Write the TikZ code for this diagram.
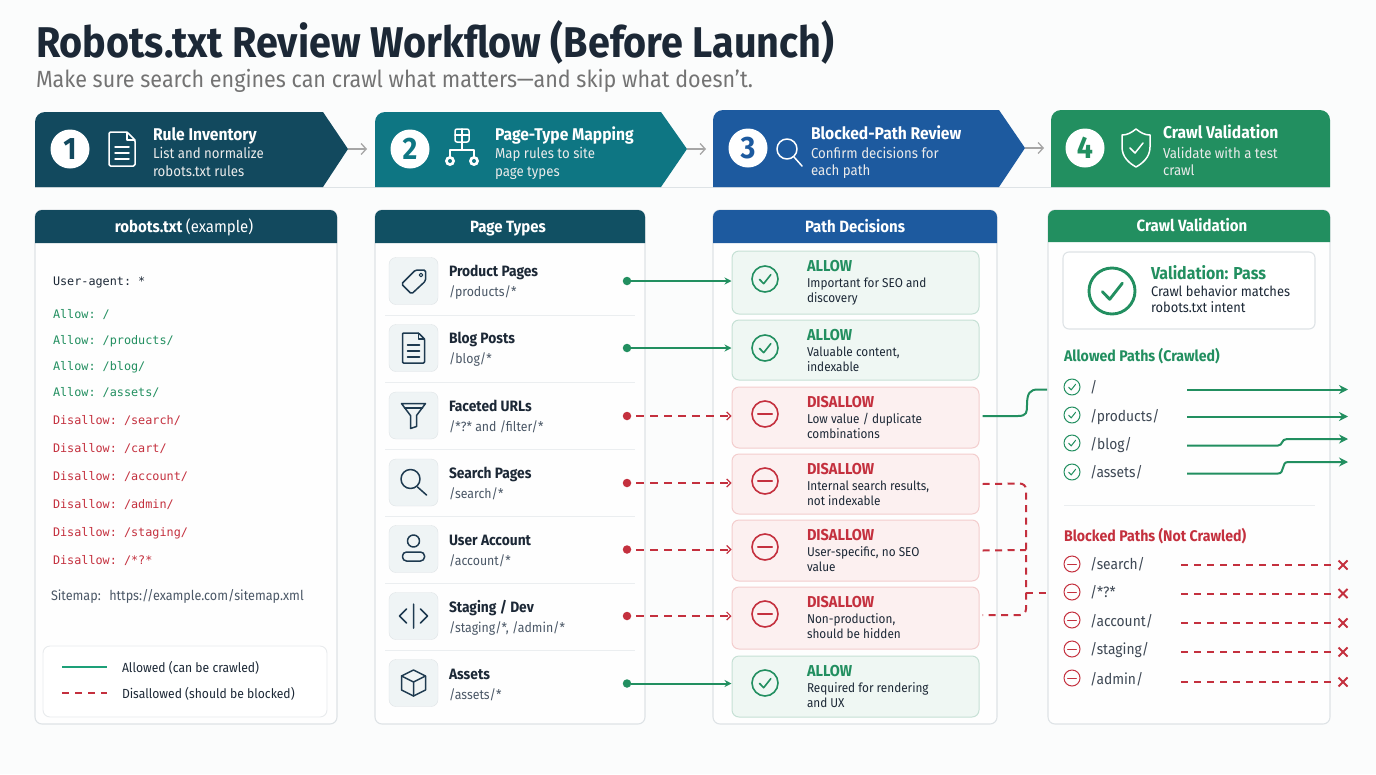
\documentclass[tikz,border=0pt]{standalone}
\usepackage{fontspec}
\setmainfont[FakeStretch=0.92]{Fira Sans}
\setmonofont{DejaVu Sans Mono}
\usetikzlibrary{arrows.meta,shapes.misc}
\definecolor{bgc}{HTML}{FBFCFC}
\definecolor{navy}{HTML}{12495E}
\definecolor{teal}{HTML}{0E7683}
\definecolor{blu}{HTML}{1D5A9F}
\definecolor{grn}{HTML}{228F60}
\definecolor{red1}{HTML}{C4303E}
\definecolor{ink}{HTML}{1C2836}
\definecolor{sub}{HTML}{4A5766}
\definecolor{iconc}{HTML}{1E3A50}
\definecolor{edge}{HTML}{DEE3E6}
\definecolor{grnfill}{HTML}{EFF7F3}
\definecolor{grnedge}{HTML}{C6E0D5}
\definecolor{redfill}{HTML}{FCF0F0}
\definecolor{rededge}{HTML}{F3CDCD}
\definecolor{iconfill}{HTML}{EFF4F5}
\newcommand{\fs}[1]{\fontsize{#1}{#1}\selectfont}
\tikzset{
  lbl/.style={anchor=base west,inner sep=0,outer sep=0},
  ctr/.style={anchor=base,inner sep=0,outer sep=0},
  steptitle/.style={lbl,text=white,font=\fs{17}\bfseries},
  stepsub/.style={lbl,text=white!92!black,font=\fs{14.4}},
  badge/.style={circle,fill=white,minimum size=39pt,inner sep=0,font=\fs{31}\bfseries},
  panelbox/.style={draw=edge,line width=1.1pt,fill=white!70!bgc,rounded corners=7pt,inner sep=0,outer sep=0},
  hdr/.style={ctr,text=white,font=\fs{16.3}\bfseries},
  code/.style={lbl,font=\ttfamily\fs{11.8}},
  rowt/.style={lbl,text=ink,font=\fs{15}\bfseries},
  rows/.style={lbl,text=sub,font=\fs{13.4}},
  iconbox/.style={draw=edge,fill=iconfill,rounded corners=7pt,minimum width=49pt,minimum height=47pt,inner sep=0},
  sep/.style={draw=edge!60,line width=1pt},
  dot/.style={circle,inner sep=0,minimum size=8.5pt},
  ok/.style={grn,line width=2pt,-{Stealth[length=7pt,width=7pt]}},
  no/.style={red1,line width=2pt,dash pattern=on 8pt off 6pt,-{Straight Barb[length=4pt,width=8pt,line width=1.2pt]}},
  icn/.style={iconc,line width=1.5pt,line join=round,line cap=round},
  wic/.style={white,line width=1.5pt,line join=round,line cap=round},
  dect/.style={lbl,font=\fs{15.8}\bfseries},
  decs/.style={lbl,text=ink,font=\fs{12.8}},
  pathtxt/.style={lbl,text=ink!85,font=\fs{15}},
  gout/.style={grn,line width=2pt,-{Stealth[length=9pt,width=9pt]}},
  rout/.style={red1,line width=2pt,dash pattern=on 7pt off 6pt},
  xmark/.style={cross out,draw=red1,line width=2pt,minimum size=7pt,inner sep=0},
  flow/.style={draw=black!35,line width=1.5pt,-{Straight Barb[length=5pt,width=11pt,line width=1.3pt]}},
  link/.style={line width=2pt},
}
% #1 name #2 x1 #3 y1 #4 x2 #5 y2 #6 header bottom #7 colour #8 title #9 title x
\newcommand{\panel}[9]{%
  \node[panelbox,minimum width={(#4-#2)*1pt},minimum height={(#5-#3)*1pt}] (#1) at ({(#2+#4)/2},{(#3+#5)/2}) {};
  \fill[#7] (#2,#6) [rounded corners=7pt] -- (#2,#3) -- (#4,#3) [sharp corners] -- (#4,#6) -- cycle;
  \node[hdr] (#1h) at (#9,{(#3+#6)/2+5.5}) {#8};
}
% #1 id #2 box y #3 text y #4 title #5 sub
\newcommand{\pagerow}[5]{%
  \node[iconbox] (pi#1) at (413.5,#2) {};
  \node[rowt] (pt#1) at (449,#3-5) {#4};
  \node[rows] (ps#1) at (449,#3+15) {#5};
}
% #1 id #2 top #3 bottom #4 colour #5 title #6 l1 #7 l2
\newcommand{\decbox}[7]{%
  \node[draw=#4edge,fill=#4fill,line width=1pt,rounded corners=7pt,inner sep=0,minimum width=247pt,minimum height={(#3-#2)*1pt}] (d#1) at (855.5,{(#2+#3)/2}) {};
  \node[dect,text=\csname dcol#4\endcsname] (dt#1) at (807,#2+20) {#5};
  \node[decs] (dl#1) at (807,#2+36) {#6};
  \node[decs] (dm#1) at (807,#2+51) {#7};
}
\newcommand{\dcolgrn}{grn}\newcommand{\dcolred}{red1}
\newcommand{\okic}[3]{% x y r
  \begin{scope}[shift={(#1,#2)},grn,line width=#3*0.125pt,line cap=round,line join=round]
    \draw (0,0) circle (#3pt);
    \draw (-#3*.42,#3*.03) -- (-#3*.1,#3*.36) -- (#3*.45,-#3*.34);
  \end{scope}}
\newcommand{\noic}[3]{%
  \begin{scope}[shift={(#1,#2)},red1,line width=#3*0.125pt,line cap=round]
    \draw (0,0) circle (#3pt);
    \draw (-#3*.55,0) -- (#3*.55,0);
  \end{scope}}
\begin{document}
\begin{tikzpicture}[x=1pt,y=-1pt]
\useasboundingbox (0,0) rectangle (1376,774);
\fill[bgc] (0,0) rectangle (1376,774);
% heading
\node[lbl,text=ink,font=\fs{43}\bfseries] (title) at (36,57) {Robots.txt Review Workflow (Before Launch)};
\node[lbl,text=black!55,font=\fs{23.4}] (subtitle) at (36,87) {Make sure search engines can crawl what matters—and skip what doesn’t.};
% band
\draw[edge,line width=1pt] (35,187) -- (1330,187);
\fill[navy] (35,187) [rounded corners=10pt] -- (35,112) [sharp corners] -- (323,112) -- (348,149) -- (323,187) -- cycle;
\fill[teal] (375,187) [rounded corners=10pt] -- (375,112) [sharp corners] -- (661,112) -- (687,149) -- (661,187) -- cycle;
\fill[blu] (713,187) [rounded corners=10pt] -- (713,110) [sharp corners] -- (999,110) -- (1025,148) -- (999,187) -- cycle;
\fill[grn] (1051,187) [rounded corners=10pt] -- (1051,110) -- (1330,110) [sharp corners] -- (1330,187) -- cycle;
\coordinate (tip1) at (348,149); \coordinate (in2) at (367,149);
\coordinate (tip2) at (687,149); \coordinate (in3) at (706,149);
\coordinate (tip3) at (1025,148); \coordinate (in4) at (1044,148);
\draw[flow] (tip1) -- (in2);
\draw[flow] (tip2) -- (in3);
\draw[flow] (tip3) -- (in4);
\node[badge,text=navy] (b1) at (70,149) {1};
\node[badge,text=teal] (b2) at (410,149) {2};
\node[badge,text=blu] (b3) at (748,148) {3};
\node[badge,text=grn] (b4) at (1085,148) {4};
\node[steptitle] (st1) at (153,140) {Rule Inventory};
\node[stepsub] (sa1) at (153,158) {List and normalize};
\node[stepsub] (sb1) at (153,176) {robots.txt rules};
\node[steptitle] (st2) at (495,140) {Page-Type Mapping};
\node[stepsub] (sa2) at (495,158) {Map rules to site};
\node[stepsub] (sb2) at (495,176) {page types};
\node[steptitle] (st3) at (811,139) {Blocked-Path Review};
\node[stepsub] (sa3) at (811,158) {Confirm decisions for};
\node[stepsub] (sb3) at (811,175) {each path};
\node[steptitle] (st4) at (1163,138) {Crawl Validation};
\node[stepsub] (sa4) at (1163,158) {Validate with a test};
\node[stepsub] (sb4) at (1163,175) {crawl};
% step icons
\begin{scope}[shift={(122,149)}]
  \draw[wic,rounded corners=1.5pt] (-13,-17) -- (5,-17) -- (13,-9) -- (13,17) -- (-13,17) -- cycle;
  \draw[wic] (5,-17) -- (5,-9) -- (13,-9);
  \draw[wic] (-7,-2) -- (7,-2) (-7,4) -- (7,4) (-7,10) -- (7,10);
\end{scope}
\begin{scope}[shift={(462,149)}]
  \draw[wic,rounded corners=2pt] (-7,-20) rectangle (7,-7);
  \draw[wic] (-7,-14) -- (7,-14) (0,-20) -- (0,-7);
  \draw[wic] (0,-7) -- (0,1) (-12,8) -- (-12,1) -- (12,1) -- (12,8);
  \fill[white] (-12,12) circle (5pt) (12,12) circle (5pt);
  \fill[teal] (-12,12) circle (2pt) (12,12) circle (2pt);
\end{scope}
\begin{scope}[shift={(787,149)}]
  \draw[wic] (0,0) circle (10pt);
  \draw[wic] (7,8) -- (15,17);
\end{scope}
\begin{scope}[shift={(1136,148)}]
  \draw[wic] (0,-19) .. controls (5,-15) and (9,-13) .. (14,-13) -- (14,-1) .. controls (14,9) and (7,15) .. (0,19) .. controls (-7,15) and (-14,9) .. (-14,-1) -- (-14,-13) .. controls (-9,-13) and (-5,-15) .. (0,-19) -- cycle;
  \draw[wic] (-6,0) -- (-1,5) -- (7,-5);
\end{scope}
% panels
\panel{p1}{35}{210}{337}{724}{243}{navy}{\textbf{robots.txt} {\mdseries (example)}}{184}
\panel{p2}{375}{210}{645}{724}{243}{navy!85!teal}{Page Types}{508}
\panel{p3}{713}{210}{997}{724}{243}{blu}{Path Decisions}{855}
\panel{p4}{1048}{210}{1330}{724}{242}{grn}{Crawl Validation}{1192}
% code
\node[code,text=ink] (c0) at (53,285) {User-agent: *};
\node[code,text=grn] (c1) at (53,318) {Allow: /};
\node[code,text=grn] (c2) at (53,344) {Allow: /products/};
\node[code,text=grn] (c3) at (53,370) {Allow: /blog/};
\node[code,text=grn] (c4) at (53,396) {Allow: /assets/};
\node[code,text=red1] (c5) at (53,424) {Disallow: /search/};
\node[code,text=red1] (c6) at (53,452) {Disallow: /cart/};
\node[code,text=red1] (c7) at (53,480) {Disallow: /account/};
\node[code,text=red1] (c8) at (53,508) {Disallow: /admin/};
\node[code,text=red1] (c9) at (53,536) {Disallow: /staging/};
\node[code,text=red1] (c10) at (53,564) {Disallow: /*?*};
\node[lbl,text=sub,font=\fs{13.7}] (smap) at (51,600) {Sitemap:\hspace{4pt} https://example.com/sitemap.xml};
\node[draw=edge!70,fill=white,rounded corners=7pt,line width=.9pt,inner sep=0,minimum width=284pt,minimum height=71pt] (legend) at (185,681.5) {};
\coordinate (la) at (62,667); \coordinate (lb) at (107,667);
\coordinate (lc) at (62,693); \coordinate (ld) at (107,693);
\draw[grn!85!cyan,line width=2pt] (la) -- (lb);
\draw[red1,line width=2pt,dash pattern=on 7pt off 6pt] (lc) -- (ld);
\node[lbl,text=ink,font=\fs{13.2}] (la1) at (122,672) {Allowed (can be crawled)};
\node[lbl,text=ink,font=\fs{13.2}] (la2) at (122,698) {Disallowed (should be blocked)};
% page rows
\pagerow{1}{281}{281}{Product Pages}{/products/*}
\pagerow{2}{348}{348}{Blog Posts}{/blog/*}
\pagerow{3}{415.5}{416}{Faceted URLs}{/*?* and /filter/*}
\pagerow{4}{482.5}{483}{Search Pages}{/search/*}
\pagerow{5}{549}{550}{User Account}{/account/*}
\pagerow{6}{616}{617}{Staging / Dev}{/staging/*, /admin/*}
\pagerow{7}{683}{684}{Assets}{/assets/*}
\foreach \yy in {315,382,449,516,583,650} \draw[sep] (385,\yy) -- (635,\yy);
% page icons
\begin{scope}[shift={(413.5,281)}]
  \draw[icn,rounded corners=1.5pt] (-12,3) -- (2,-11) -- (12,-11) -- (12,0) -- (-2,13) -- cycle;
  \draw[icn,line width=1.1pt] (7.5,-6) circle (1.8pt);
\end{scope}
\begin{scope}[shift={(413.5,348)}]
  \draw[icn,rounded corners=1pt] (-11,-15) -- (5,-15) -- (11,-9) -- (11,15) -- (-11,15) -- cycle;
  \draw[icn] (5,-15) -- (5,-9) -- (11,-9);
  \draw[icn] (-6,-3) -- (6,-3) (-6,3) -- (6,3) (-6,9) -- (6,9);
\end{scope}
\begin{scope}[shift={(413.5,415.5)}]
  \draw[icn] (-12,-12) -- (12,-12) -- (3,0) -- (3,11) -- (-3,13) -- (-3,0) -- cycle;
  \draw[icn] (-9,-7.5) -- (9,-7.5);
\end{scope}
\begin{scope}[shift={(413.5,482)}]
  \draw[icn] (-3,-3) circle (9.5pt);
  \draw[icn] (4,5) -- (13,13);
\end{scope}
\begin{scope}[shift={(413.5,549)}]
  \draw[icn] (0,-8) circle (6pt);
  \draw[icn,rounded corners=4pt] (-11,12) -- (-11,3) -- (11,3) -- (11,12) -- cycle;
\end{scope}
\begin{scope}[shift={(413.5,616)}]
  \draw[icn] (-7,-7) -- (-14,0) -- (-7,7) (7,-7) -- (14,0) -- (7,7) (0,-12) -- (0,12);
\end{scope}
\begin{scope}[shift={(413.5,683)}]
  \draw[icn] (0,-13) -- (12,-7) -- (12,7) -- (0,13) -- (-12,7) -- (-12,-7) -- cycle;
  \draw[icn] (-12,-7) -- (0,-1) -- (12,-7) (0,-1) -- (0,13);
\end{scope}
% decisions
\decbox{1}{251}{314}{grn}{ALLOW}{Important for SEO and}{discovery}
\decbox{2}{320}{380}{grn}{ALLOW}{Valuable content,}{indexable}
\decbox{3}{387}{448}{red}{DISALLOW}{Low value / duplicate}{combinations}
\decbox{4}{454}{514}{red}{DISALLOW}{Internal search results,}{not indexable}
\decbox{5}{520}{581}{red}{DISALLOW}{User-specific, no SEO}{value}
\decbox{6}{587}{649}{red}{DISALLOW}{Non-production,}{should be hidden}
\decbox{7}{656}{717}{grn}{ALLOW}{Required for rendering}{and UX}
\okic{765}{279}{13}
\okic{765}{348}{13}
\noic{765}{414}{13}
\noic{765}{481}{13}
\noic{765}{547}{13}
\noic{765}{614}{13}
\okic{765}{683}{13}
% dots and arrows
\node[dot,fill=grn] (n1) at (627,281) {};
\node[dot,fill=grn] (n2) at (627,348) {};
\node[dot,fill=red1] (n3) at (627,416) {};
\node[dot,fill=red1] (n4) at (627,483) {};
\node[dot,fill=red1] (n5) at (627,549.5) {};
\node[dot,fill=red1] (n6) at (627,616) {};
\node[dot,fill=grn] (n7) at (627,683.5) {};
\draw[ok] (n1) -- (n1 -| d1.west);
\draw[ok] (n2) -- (n2 -| d2.west);
\draw[ok] (n7) -- (n7 -| d7.west);
\draw[no,shorten <=5pt] (n3) -- (n3 -| d3.west);
\draw[no,shorten <=5pt] (n4) -- (n4 -| d4.west);
\draw[no,shorten <=5pt] (n5) -- (n5 -| d5.west);
\draw[no,shorten <=5pt] (n6) -- (n6 -| d6.west);
% validation
\node[draw=edge,fill=white,rounded corners=6pt,line width=1.1pt,inner sep=0,minimum width=252pt,minimum height=77pt] (vbox) at (1189,290.5) {};
\okic{1112}{291}{23}
\node[lbl,text=grn,font=\fs{17.3}\bfseries] (vt) at (1151,279) {Validation: Pass};
\node[lbl,text=ink,font=\fs{14}] (v1) at (1151,296) {Crawl behavior matches};
\node[lbl,text=ink,font=\fs{14}] (v2) at (1151,312) {robots.txt intent};
\node[lbl,text=grn,font=\fs{15.4}\bfseries] (ah) at (1064,361) {Allowed Paths (Crawled)};
\node[lbl,text=red1,font=\fs{15.4}\bfseries] (bh) at (1064,541) {Blocked Paths (Not Crawled)};
\draw[sep] (1064,505) -- (1315,505);
\okic{1072}{387}{8}\okic{1072}{415}{8}\okic{1072}{443}{8}\okic{1072}{472}{8}
\noic{1072}{564}{8}\noic{1072}{592}{8}\noic{1072}{620}{8}\noic{1072}{649}{8}\noic{1072}{678}{8}
\node[pathtxt] (a1) at (1090,392) {/};
\node[pathtxt] (a2) at (1090,421) {/products/};
\node[pathtxt] (a3) at (1090,449) {/blog/};
\node[pathtxt] (a4) at (1090,477) {/assets/};
\node[pathtxt] (r1) at (1090,569) {/search/};
\node[pathtxt] (r2) at (1090,597) {/*?*};
\node[pathtxt] (r3) at (1090,626) {/account/};
\node[pathtxt] (r4) at (1090,654) {/staging/};
\node[pathtxt] (r5) at (1090,684) {/admin/};
% allowed outputs
\coordinate (as1) at (1187,389.5); \coordinate (ae1) at (1348,389.5);
\coordinate (as2) at (1187,416.5); \coordinate (ae2) at (1348,416.5);
\coordinate (as3) at (1187,445.5); \coordinate (ae3) at (1348,439);
\coordinate (as4) at (1187,473.5); \coordinate (ae4) at (1348,462);
\draw[gout] (as1) -- (ae1);
\draw[gout] (as2) -- (ae2);
\draw[gout] (as3) -- (1278,445.5) .. controls (1283,445.5) and (1281,439) .. (1287,439) -- (ae3);
\draw[gout] (as4) -- (1278,473.5) .. controls (1285,473.5) and (1281,462) .. (1288,462) -- (ae4);
% blocked outputs
\node[xmark] (x1) at (1343,565) {};
\node[xmark] (x2) at (1343,593.5) {};
\node[xmark] (x3) at (1343,623) {};
\node[xmark] (x4) at (1343,652) {};
\node[xmark] (x5) at (1343,682) {};
\coordinate (bs1) at (1181,565); \coordinate (bs2) at (1181,593.5); \coordinate (bs3) at (1181,623); \coordinate (bs4) at (1181,652); \coordinate (bs5) at (1181,682);
\draw[rout,shorten >=3pt] (bs1) -- (x1);
\draw[rout,shorten >=3pt] (bs2) -- (x2);
\draw[rout,shorten >=3pt] (bs3) -- (x3);
\draw[rout,shorten >=3pt] (bs4) -- (x4);
\draw[rout,shorten >=3pt] (bs5) -- (x5);
% cross-column connectors
\coordinate (gj) at (1047,389.5);
\coordinate (rj) at (1047,593);
\draw[grn,link] ([xshift=3pt]d3.east |- 0,416) -- (1018,416) .. controls (1027,416) and (1027,412) .. (1027,405) .. controls (1027,393) and (1030,389.5) .. (1038,389.5) -- (gj);
\draw[red1,link,dash pattern=on 7pt off 5.5pt,rounded corners=6pt] ([xshift=3pt]d4.east) -- (1026,483.5) -- (1026,615) -- ([xshift=3pt,yshift=3pt]d6.east);
\draw[red1,link,dash pattern=on 7pt off 5.5pt] ([xshift=3pt]d5.east) -- (1026,550);
\draw[red1,link,dash pattern=on 7pt off 5.5pt] (1026,593) -- (rj);
\end{tikzpicture}
\end{document}
